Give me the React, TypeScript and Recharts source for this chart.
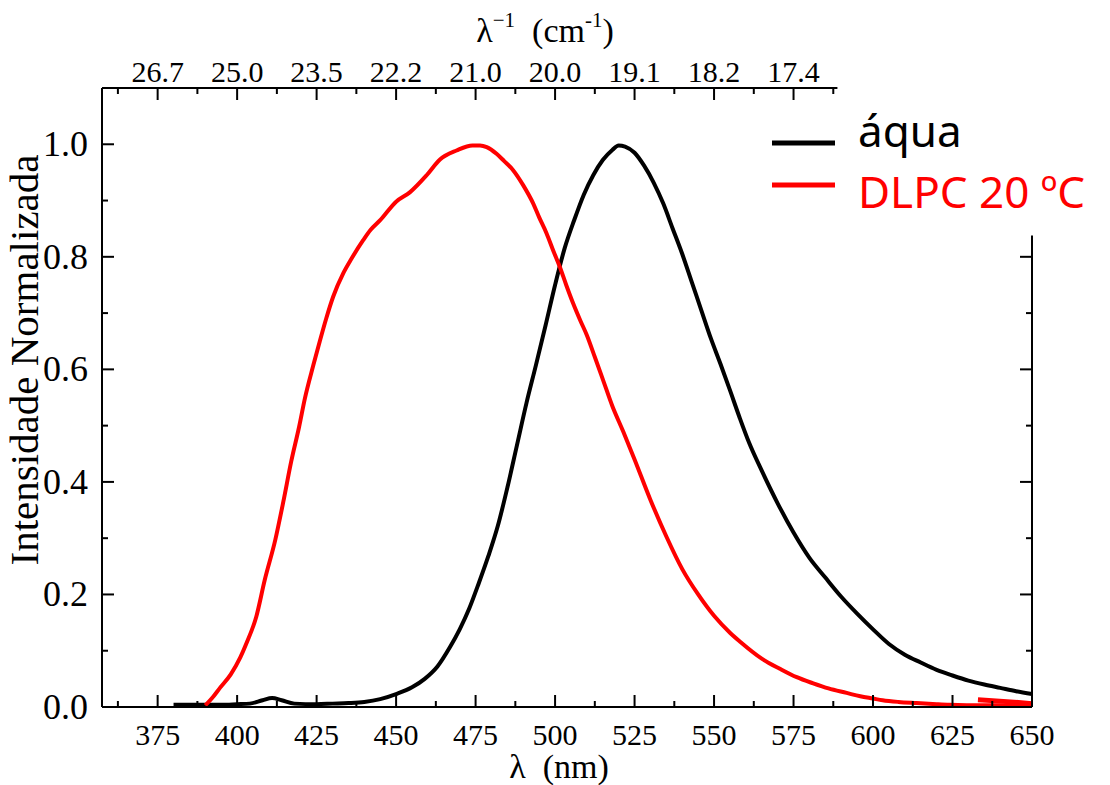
import React from 'react';
import { LineChart, Line, XAxis, YAxis, Legend, ReferenceLine, Label } from 'recharts';

// emission spectra (normalised)
const aguaNm = [380, 385, 390, 395, 400, 404, 408, 411, 414, 418, 425, 430, 435, 440, 445, 450, 455, 459, 463, 467, 470, 473, 476, 479, 482, 485, 488, 491, 494, 497, 500, 503, 506, 509, 512, 515, 518, 520, 522, 525, 528, 531, 534, 537, 540, 543, 546, 549, 552, 555, 558, 561, 565, 570, 575, 580, 585, 590, 595, 600, 605, 610, 615, 620, 625, 630, 635, 640, 645, 650];
const aguaInt = [0.004, 0.004, 0.004, 0.004, 0.005, 0.006, 0.012, 0.016, 0.012, 0.006, 0.005, 0.006, 0.007, 0.009, 0.014, 0.023, 0.035, 0.05, 0.072, 0.107, 0.138, 0.175, 0.22, 0.268, 0.322, 0.39, 0.465, 0.54, 0.608, 0.678, 0.75, 0.815, 0.865, 0.91, 0.945, 0.972, 0.99, 0.998, 0.996, 0.985, 0.962, 0.932, 0.895, 0.85, 0.805, 0.755, 0.705, 0.655, 0.61, 0.563, 0.515, 0.47, 0.42, 0.362, 0.31, 0.265, 0.23, 0.196, 0.166, 0.138, 0.112, 0.093, 0.079, 0.066, 0.056, 0.047, 0.04, 0.034, 0.028, 0.023];

const dlpcNm = [390, 392, 394.6, 398, 401, 403, 406, 408.7, 412, 414.5, 417, 419.5, 421.3, 424, 426, 428, 430.2, 433.4, 436, 439.7, 442, 445, 450, 454.4, 459.6, 463.8, 469, 474, 476.4, 478.5, 481.6, 484, 486.8, 490, 493.1, 495, 497.3, 499.5, 501.5, 503.5, 505.7, 508, 509.9, 512.5, 515.1, 518, 521.4, 525, 530, 535, 540, 545, 550, 555, 558.2, 565, 570.7, 576, 581.2, 586, 591.7, 596, 600, 603, 608, 613.7, 620, 624, 635, 650];
const dlpcInt = [0.003, 0.015, 0.034, 0.058, 0.088, 0.114, 0.16, 0.226, 0.297, 0.364, 0.436, 0.498, 0.548, 0.608, 0.65, 0.69, 0.729, 0.771, 0.797, 0.83, 0.848, 0.865, 0.898, 0.915, 0.945, 0.973, 0.989, 0.998, 0.998, 0.995, 0.983, 0.97, 0.954, 0.927, 0.895, 0.87, 0.842, 0.81, 0.782, 0.75, 0.717, 0.686, 0.662, 0.622, 0.581, 0.535, 0.49, 0.44, 0.368, 0.303, 0.245, 0.2, 0.162, 0.132, 0.116, 0.086, 0.068, 0.053, 0.042, 0.033, 0.025, 0.019, 0.015, 0.012, 0.009, 0.007, 0.005, 0.004, 0.003, 0.003];

// short stray red piece near the right edge
const dlpcTailNm = [633, 641, 650];
const dlpcTailInt = [0.013, 0.01, 0.006];

const legendOrder = ['áqua', 'DLPC 20 ºC'];

const nmTicks = [362.5, 375, 387.5, 400, 412.5, 425, 437.5, 450, 462.5, 475, 487.5, 500, 512.5, 525, 537.5, 550, 562.5, 575, 587.5, 600, 612.5, 625, 637.5, 650];
const topTicks = [362.5, 375, 387.5, 400, 412.5, 425, 437.5, 450, 462.5, 475, 487.5, 500, 512.5, 525, 537.5, 550, 562.5, 575, 587.5];
const topTickLabels = ['26.7', '25.0', '23.5', '22.2', '21.0', '20.0', '19.1', '18.2', '17.4'];
const yTicks = [0, 0.1, 0.2, 0.3, 0.4, 0.5, 0.6, 0.7, 0.8, 0.9, 1.0];
const yRightTicks = [0, 0.1, 0.2, 0.3, 0.4, 0.5, 0.6, 0.7, 0.8];

const serif = '"Liberation Serif", "Times New Roman", serif';
const comic = '"Comic Sans MS", "Noto Sans", sans-serif';

const toRows = (xs: number[], ys: number[]) => xs.map((nm, i) => ({ nm, v: ys[i] }));

const BottomTick = ({ x, y, payload }: any) => {
  const v = payload.value;
  const major = v % 25 === 0;
  return (
    <g>
      <line x1={x} x2={x} y1={y} y2={y - (major ? 12 : 6)} stroke="#000" strokeWidth={2} />
      {major && (
        <text x={x} y={y + 38} textAnchor="middle" fontSize={30} fontFamily={serif} fill="#000">
          {v}
        </text>
      )}
    </g>
  );
};

const TopTick = ({ x, y, payload }: any) => {
  const v = payload.value;
  const major = v % 25 === 0;
  return (
    <g>
      <line x1={x} x2={x} y1={y} y2={y + (major ? 12 : 6)} stroke="#000" strokeWidth={2} />
      {major && (
        <text x={x} y={y - 6} textAnchor="middle" fontSize={30} fontFamily={serif} fill="#000">
          {topTickLabels[(v - 375) / 25]}
        </text>
      )}
    </g>
  );
};

const LeftTick = ({ x, y, payload }: any) => {
  const v = payload.value;
  const major = Math.round(v * 10) % 2 === 0;
  return (
    <g>
      <line x1={x} x2={x + (major ? 12 : 6)} y1={y} y2={y} stroke="#000" strokeWidth={2} />
      {major && (
        <text x={x - 14} y={y + 12} textAnchor="end" fontSize={36} fontFamily={serif} fill="#000">
          {v.toFixed(1)}
        </text>
      )}
    </g>
  );
};

const RightTick = ({ x, y, payload }: any) => {
  const major = Math.round(payload.value * 10) % 2 === 0;
  return <line x1={x} x2={x - (major ? 12 : 6)} y1={y} y2={y} stroke="#000" strokeWidth={2} />;
};

const TopTitle = ({ viewBox }: any) => (
  <text x={viewBox.x + 443} y={viewBox.y + 14} textAnchor="middle" fontSize={34} fontFamily={serif} fill="#000" style={{ whiteSpace: 'pre' }}>
    λ<tspan fontSize={21} dy={-15}>−1</tspan>
    <tspan dy={15}>{'  (cm'}</tspan>
    <tspan fontSize={21} dy={-15}>-1</tspan>
    <tspan dy={15}>)</tspan>
  </text>
);

const BottomTitle = ({ viewBox }: any) => (
  <text x={viewBox.x + 457} y={viewBox.y + 71} textAnchor="middle" fontSize={34} fontFamily={serif} fill="#000" style={{ whiteSpace: 'pre' }}>
    {'λ  (nm)'}
  </text>
);

const LeftTitle = ({ viewBox }: any) => (
  <text
    x={0}
    y={0}
    transform={`translate(${viewBox.x + 26}, ${viewBox.y + 272}) rotate(-90)`}
    textAnchor="middle"
    fontSize={41}
    fontFamily={serif}
    fill="#000"
  >
    Intensidade Normalizada
  </text>
);

const renderLegend = (props: any) => {
  const items = (props.payload || [])
    .filter((p: any) => p.type !== 'none')
    .sort((a: any, b: any) => legendOrder.indexOf(a.value) - legendOrder.indexOf(b.value));
  const rows = [
    { line: 33, base: 37 },
    { line: 75, base: 98 },
  ];
  return (
    <svg width={350} height={115} style={{ overflow: 'visible' }}>
      {items.map((it: any, i: number) => (
        <g key={it.value}>
          <line x1={12} x2={75} y1={rows[i].line} y2={rows[i].line} stroke={it.color} strokeWidth={5} />
          <text x={98} y={rows[i].base} fontSize={44} fontFamily={comic} fill={it.color}>
            {it.value}
          </text>
        </g>
      ))}
    </svg>
  );
};

export default function App() {
  return (
    <div style={{ position: 'absolute', left: 0, top: 0, background: '#fff' }}>
      <LineChart width={1110} height={785} margin={{ top: 28, right: 68, bottom: 28, left: 12 }}>
        <XAxis
          dataKey="nm"
          type="number"
          domain={[357.5, 650]}
          ticks={nmTicks}
          interval={0}
          height={50}
          tickSize={0}
          tickMargin={0}
          tickLine={false}
          tick={<BottomTick />}
          axisLine={{ stroke: '#000', strokeWidth: 2 }}
        >
          <Label content={<BottomTitle />} />
        </XAxis>
        <XAxis
          xAxisId="top"
          dataKey="nm"
          orientation="top"
          type="number"
          domain={[357.5, 650]}
          ticks={topTicks}
          interval={0}
          height={60}
          tickSize={0}
          tickMargin={0}
          tickLine={false}
          tick={<TopTick />}
          axisLine={false}
        >
          <Label content={<TopTitle />} />
        </XAxis>
        <YAxis
          type="number"
          domain={[0, 1.1]}
          ticks={yTicks}
          interval={0}
          width={90}
          tickSize={0}
          tickMargin={0}
          tickLine={false}
          tick={<LeftTick />}
          axisLine={{ stroke: '#000', strokeWidth: 2 }}
        >
          <Label content={<LeftTitle />} />
        </YAxis>
        <YAxis
          yAxisId="r"
          orientation="right"
          type="number"
          domain={[0, 1.1]}
          ticks={yRightTicks}
          interval={0}
          width={10}
          tickSize={0}
          tickMargin={0}
          tickLine={false}
          tick={<RightTick />}
          axisLine={false}
        />
        <ReferenceLine segment={[{ x: 357.5, y: 1.1 }, { x: 588.8, y: 1.1 }]} stroke="#000" strokeWidth={2} />
        <ReferenceLine segment={[{ x: 650, y: 0 }, { x: 650, y: 0.838 }]} stroke="#000" strokeWidth={2} />
        <Legend
          content={renderLegend}
          layout="vertical"
          align="center"
          verticalAlign="middle"
          wrapperStyle={{ left: 760, top: 110, width: 350, height: 115 }}
        />
        <Line
          data={toRows(aguaNm, aguaInt)}
          dataKey="v"
          name="áqua"
          type="monotone"
          stroke="#000000"
          strokeWidth={4}
          dot={false}
          isAnimationActive={false}
        />
        <Line
          data={toRows(dlpcNm, dlpcInt)}
          dataKey="v"
          name="DLPC 20 ºC"
          type="monotone"
          stroke="#ff0000"
          strokeWidth={4}
          dot={false}
          isAnimationActive={false}
        />
        <Line
          data={toRows(dlpcTailNm, dlpcTailInt)}
          xAxisId="top"
          yAxisId="r"
          dataKey="v"
          name="tail"
          legendType="none"
          type="linear"
          stroke="#ff0000"
          strokeWidth={5}
          dot={false}
          isAnimationActive={false}
        />
      </LineChart>
    </div>
  );
}
